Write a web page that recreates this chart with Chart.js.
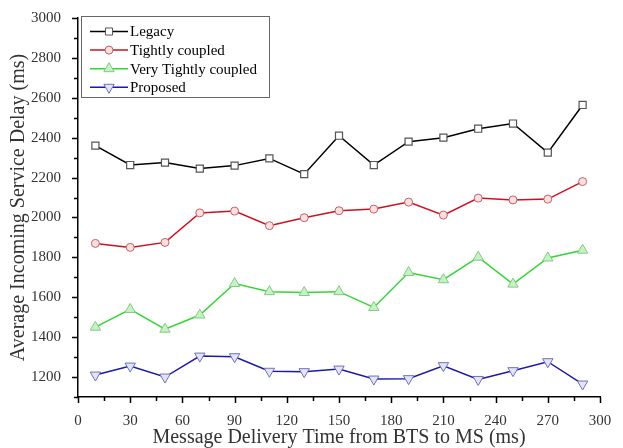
<!DOCTYPE html>
<html>
<head>
  <title>Average Incoming Service Delay</title>
  <script src="https://cdn.jsdelivr.net/npm/chart.js"></script>
  <style>
    body {
      margin: 0;
      background-color: #fff;
    }
    #wrap {
      width: 623px;
      height: 448px;
    }
  </style>
</head>
<body>
  <div id="wrap">
    <canvas id="chart" width="623" height="448"></canvas>
  </div>
  <script>
// message delivery time (ms)
const xValues = [10, 30, 50, 70, 90, 110, 130, 150, 170, 190, 210, 230, 250, 270, 290];

const legacy = [2360, 2263, 2275, 2245, 2260, 2296, 2217, 2410, 2263, 2380, 2400, 2445, 2471, 2325, 2564];
const tightlyCoupled = [1870, 1850, 1875, 2023, 2032, 1959, 1999, 2034, 2042, 2077, 2012, 2097, 2088, 2092, 2180];
const veryTightlyCoupled = [1450, 1539, 1440, 1511, 1669, 1628, 1624, 1628, 1549, 1724, 1688, 1801, 1666, 1797, 1836];
const proposed = [1210, 1255, 1200, 1305, 1302, 1229, 1227, 1240, 1190, 1192, 1257, 1188, 1232, 1277, 1165];

const seriesNames = ['Legacy', 'Tightly coupled', 'Very Tightly coupled', 'Proposed'];

const xTicks = [0, 30, 60, 90, 120, 150, 180, 210, 240, 270, 300];
const yTicks = [1200, 1400, 1600, 1800, 2000, 2200, 2400, 2600, 2800, 3000];

const FONT = '"Liberation Serif", "Times New Roman", serif';

function points(ys) {
  return xValues.map((x, i) => ({ x: x, y: ys[i] }));
}

// outward ticks, long at labels, short in between
const tickPlugin = {
  id: 'ticks',
  afterDraw(chart) {
    const ctx = chart.ctx;
    const xs = chart.scales.x;
    const ys = chart.scales.y;
    ctx.save();
    ctx.strokeStyle = '#000';
    ctx.lineWidth = 1.5;
    ctx.beginPath();
    for (let v = 0; v <= 300; v += 15) {
      const px = Math.round(xs.getPixelForValue(v)) + 0.5;
      const len = v % 30 === 0 ? 6 : 4;
      ctx.moveTo(px, xs.top);
      ctx.lineTo(px, xs.top + len);
    }
    for (let v = 1100; v <= 3000; v += 100) {
      const py = Math.round(ys.getPixelForValue(v)) + 0.5;
      const len = v % 200 === 0 ? 6 : 4;
      ctx.moveTo(ys.right, py);
      ctx.lineTo(ys.right - len, py);
    }
    ctx.stroke();
    ctx.restore();
  }
};

function drawMarker(ctx, style, x, y, r, rot) {
  ctx.beginPath();
  if (style === 'rect') {
    const s = Math.SQRT1_2 * r;
    ctx.rect(x - s, y - s, 2 * s, 2 * s);
  } else if (style === 'circle') {
    ctx.arc(x, y, r, 0, Math.PI * 2);
  } else {
    const d = rot ? -1 : 1;
    ctx.moveTo(x, y - d * r);
    ctx.lineTo(x - r * 0.866, y + d * r * 0.5);
    ctx.lineTo(x + r * 0.866, y + d * r * 0.5);
    ctx.closePath();
  }
  ctx.fill();
  ctx.stroke();
}

// legend box inside the plot, top left
const legendPlugin = {
  id: 'boxLegend',
  afterDraw(chart) {
    const ctx = chart.ctx;
    const left = 81.5, top = 16.5, w = 188, h = 81;
    ctx.save();
    ctx.fillStyle = '#fff';
    ctx.fillRect(left, top, w, h);
    ctx.strokeStyle = '#666';
    ctx.lineWidth = 1;
    ctx.strokeRect(left, top, w, h);
    ctx.font = '15px ' + FONT;
    ctx.textBaseline = 'middle';
    chart.data.datasets.forEach((ds, i) => {
      const y = 31.5 + i * 18.6;
      ctx.strokeStyle = ds.borderColor;
      ctx.lineWidth = 1.5;
      ctx.beginPath();
      ctx.moveTo(90, y);
      ctx.lineTo(128, y);
      ctx.stroke();
      ctx.fillStyle = ds.pointBackgroundColor;
      ctx.strokeStyle = ds.pointBorderColor;
      ctx.lineWidth = 1;
      drawMarker(ctx, ds.pointStyle, 109, y, ds.pointRadius, ds.pointRotation);
      ctx.fillStyle = '#000';
      ctx.fillText(ds.label, 130, y + 1);
    });
    ctx.restore();
  }
};

new Chart(document.getElementById('chart').getContext('2d'), {
  type: 'line',
  data: {
    datasets: [
      {
        label: seriesNames[0],
        data: points(legacy),
        borderColor: '#000000',
        borderWidth: 1.5,
        pointStyle: 'rect',
        pointRadius: 5,
        pointBackgroundColor: '#ffffff',
        pointBorderColor: '#555555',
        pointBorderWidth: 1.2
      },
      {
        label: seriesNames[1],
        data: points(tightlyCoupled),
        borderColor: '#cc1020',
        borderWidth: 1.5,
        pointStyle: 'circle',
        pointRadius: 4,
        pointBackgroundColor: '#fbe0dc',
        pointBorderColor: '#c06070',
        pointBorderWidth: 1
      },
      {
        label: seriesNames[2],
        data: points(veryTightlyCoupled),
        borderColor: '#33d633',
        borderWidth: 1.5,
        pointStyle: 'triangle',
        pointRadius: 6,
        pointBackgroundColor: '#c8f0c8',
        pointBorderColor: '#80cc80',
        pointBorderWidth: 1
      },
      {
        label: seriesNames[3],
        data: points(proposed),
        borderColor: '#1a1aa8',
        borderWidth: 1.5,
        pointStyle: 'triangle',
        pointRotation: 180,
        pointRadius: 6,
        pointBackgroundColor: '#e4e4f8',
        pointBorderColor: '#7070b8',
        pointBorderWidth: 1
      }
    ]
  },
  options: {
    responsive: false,
    animation: false,
    layout: { padding: { left: 0, top: 15, right: 23, bottom: 0 } },
    plugins: {
      legend: { display: false },
      tooltip: { enabled: false }
    },
    scales: {
      x: {
        type: 'linear',
        min: 0,
        max: 300,
        afterBuildTicks: (scale) => { scale.ticks = xTicks.map(v => ({ value: v })); },
        afterFit: (scale) => { scale.height = 51; },
        grid: { display: false },
        border: { display: true, color: '#000', width: 1.5 },
        ticks: { color: '#333', padding: 7, maxRotation: 0, font: { family: FONT, size: 15 },
          callback: (v) => String(v) },
        title: {
          display: true,
          text: 'Message Delivery Time from BTS to MS (ms)',
          color: '#333',
          padding: { top: 0, bottom: 0 },
          font: { family: FONT, size: 20, lineHeight: 1.0 }
        }
      },
      y: {
        min: 1100,
        max: 3000,
        afterBuildTicks: (scale) => { scale.ticks = yTicks.map(v => ({ value: v })); },
        afterFit: (scale) => { scale.width = 78; },
        grid: { display: false },
        border: { display: true, color: '#000', width: 1.5 },
        ticks: { color: '#333', padding: 9, font: { family: FONT, size: 15 },
          callback: (v) => String(v) },
        title: {
          display: true,
          text: 'Average Incoming Service Delay (ms)',
          color: '#333',
          padding: { top: 9, bottom: 0 },
          font: { family: FONT, size: 20, lineHeight: 1.0 }
        }
      }
    }
  },
  plugins: [tickPlugin, legendPlugin]
});
  </script>
</body>
</html>
